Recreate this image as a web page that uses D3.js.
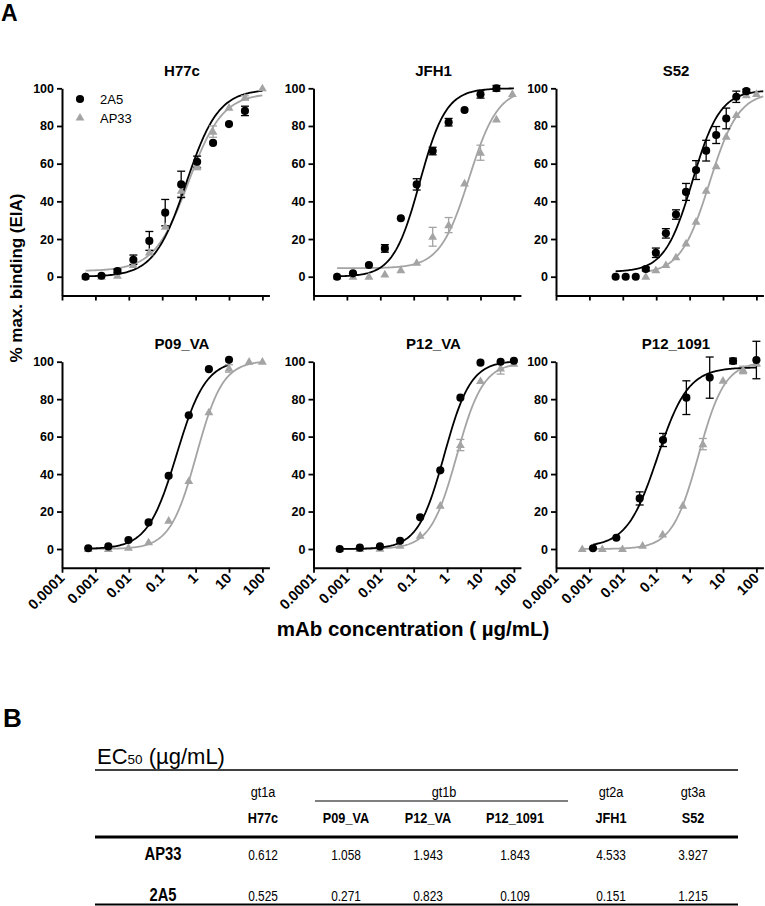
<!DOCTYPE html>
<html><head><meta charset="utf-8">
<script src="https://cdn.jsdelivr.net/npm/d3@7/dist/d3.min.js"></script>
<style>
body{margin:0;background:#fff;}
svg{display:block;font-family:"Liberation Sans",Arial,sans-serif;}
</style></head>
<body>
<svg id="c" width="765" height="906"></svg>
<script>
// ---------------- DATA ----------------
const panelNames = ["H77c","JFH1","S52","P09_VA","P12_VA","P12_1091"];
const xTickValues = [0.0001,0.001,0.01,0.1,1,10,100];
const xTickLabels = ["0.0001","0.001","0.01","0.1","1","10","100"];
const yTickValues = [0,20,40,60,80,100];

// concentrations (µg/mL), mean % binding, SEM
const conc_2A5 = [
  [0.000508,0.00152,0.00457,0.0137,0.0412,0.123,0.370,1.11,3.33,10,30],
  [0.000508,0.00152,0.00457,0.0137,0.0412,0.123,0.370,1.11,3.33,10,30],
  [0.0061,0.0122,0.0244,0.0488,0.0977,0.195,0.391,0.781,1.56,3.13,6.25,12.5,25,50],
  [0.00061,0.00244,0.00977,0.0391,0.156,0.625,2.5,10],
  [0.00061,0.00244,0.00977,0.0391,0.156,0.625,2.5,10,40,100],
  [0.00128,0.0064,0.032,0.16,0.8,4,20,100]
];
const val_2A5 = [
  [0,0.5,3,9,19,34,49,61,71,81,88],
  [0,1.8,6.2,15,31,49,66.7,82,88.5,96.8,100],
  [0,0,0,4.1,12.7,23,33,45,56.6,66.9,75.2,84,95.5,98.5],
  [0.4,1.4,4.8,14.2,39.1,71.4,96,101],
  [0,0.7,1.4,4.4,16.9,42,80.8,99.5,100,100.5],
  [0.4,6,27,58.2,80.8,91.5,100.4,100.9]
];
const sem_2A5 = [
  [0,0,1,2.5,5,7,7,3,0,0,2.5],
  [0,0,0,2,0,3,2,2,0,2,1.5,0],
  [0,0,0,1,2.5,2.5,2.5,4.5,5,5.5,4.5,5.5,3,1],
  [0,0,0,0,0,0,0,0],
  [0,0,0,0,0,0,0,0,0,0],
  [0,0,3.5,3.5,9,11,1.5,10]
];
const conc_AP33 = [
  [0.000508,0.00152,0.00457,0.0137,0.0412,0.123,0.370,1.11,3.33,10,30,100],
  [0.000508,0.00152,0.00457,0.0137,0.0412,0.123,0.370,1.11,3.33,10,30,90],
  [0.0488,0.0977,0.195,0.391,0.781,1.56,3.13,6.25,12.5,25,50,100],
  [0.00061,0.00244,0.00977,0.0391,0.156,0.625,2.5,10,40,100],
  [0.00061,0.00244,0.00977,0.0391,0.156,0.625,2.5,10,40,100],
  [0.00061,0.00244,0.00977,0.0391,0.156,0.625,2.5,10,40,100]
];
const val_AP33 = [
  [0,0,0.5,6.2,12.9,26.5,45.6,58.8,77,89.7,95,100],
  [0,0,0,1.2,3.5,7.4,21.2,27.4,49.5,65.8,83.5,97],
  [0,3.5,6.2,10.3,17.7,29.2,45.6,58.7,74.3,85.8,96.4,97],
  [0,0,0.7,3.6,15.1,36.3,73,96.4,100,100],
  [0,0,0.2,1.8,7.1,23.1,55.5,89.7,96.4,99],
  [0,0,0,1.8,7.8,23.1,56,89.9,95.6,99.2]
];
const sem_AP33 = [
  [0,0,0,0,0,0,3,2,3,0,1,0],
  [0,0,0,0,0,0,5,4,0,4,0,0],
  [0,0,0,0,0,0,0,0,0,0,0,0],
  [0,0,0,0,0,0,0,2,0,0],
  [0,0,0,0,0,0,3,0,3,0],
  [0,0,0,0,0,0,3,0,2,1.5]
];

// EC50 table (µg/mL)
const tableCols = ["H77c","P09_VA","P12_VA","P12_1091","JFH1","S52"];
const genotypes = ["gt1a","gt1b","gt2a","gt3a"];
const tableRows = ["AP33","2A5"];
const ec50_AP33 = [0.612,1.058,1.943,1.843,4.533,3.927];
const ec50_2A5  = [0.525,0.271,0.823,0.109,0.151,1.215];

// 4PL fit: bottom, top, hill slope (per panel, in panelNames order)
const fitBottom_2A5 = [0,0,2.5,0,0,1];
const fitTop_2A5    = [99.5,100,99,101,100.5,97];
const fitHill_2A5   = [0.9,1.1,1.05,1.0,1.1,0.95];
const fitBottom_AP33 = [3,4.5,1.5,0,0,0];
const fitTop_AP33    = [97.5,100,98,100.5,99.5,100];
const fitHill_AP33   = [0.85,1.0,1.0,1.1,1.1,1.1];
const curveMax_2A5  = [100,100,160,10,100,100];
const curveMax_AP33 = [100,100,160,100,100,100];

// ---------------- DRAW ----------------
const svg = d3.select("#c");
const GRAY = "#a4a4a4";
const colX = [62,313.5,556];
const rowY = [{top:88.3,zero:276.7},{top:361.7,zero:549}];
const decade = 33.4;
const xMaxDec = 2.21;

const ecFor = (name, arr) => arr[tableCols.indexOf(name)];

panelNames.forEach((name,i)=>{
  const col = i%3, row = Math.floor(i/3);
  const x0 = colX[col];
  const r = rowY[row];
  const x = d3.scaleLog().domain([1e-4, Math.pow(10,xMaxDec)]).range([x0, x0 + (4+xMaxDec)*decade]);
  const pxPerUnit = (r.zero - r.top)/100;
  const y = d3.scaleLinear().domain([-10,100]).range([r.zero + 10*pxPerUnit, r.top]);
  const g = svg.append("g");

  const ya = g.append("g").attr("transform",`translate(${x0},0)`)
    .call(d3.axisLeft(y).tickValues(yTickValues).tickSize(5).tickSizeOuter(0).tickPadding(3));
  const xa = g.append("g").attr("transform",`translate(0,${y(-10)})`)
    .call(d3.axisBottom(x).tickValues(xTickValues).tickSize(5).tickSizeOuter(0)
      .tickFormat((d,k)=> row===1 ? xTickLabels[k] : ""));
  [ya,xa].forEach(a=>{
    a.select(".domain").attr("stroke","#000").attr("stroke-width",2);
    a.selectAll(".tick line").attr("stroke","#000").attr("stroke-width",1.8);
    a.selectAll("text").attr("fill","#000").attr("font-size",12.5).attr("font-weight","bold")
      .attr("font-family","'Liberation Sans',Arial,sans-serif");
  });
  if(row===1){
    xa.selectAll(".tick text")
      .attr("font-size",14.5)
      .attr("text-anchor","end")
      .attr("transform","rotate(-45)")
      .attr("dy","0.7em").attr("y",0).attr("x",-6);
  }

  g.append("text").attr("x",x0+120).attr("y",r.top-12.4).attr("text-anchor","middle")
    .attr("font-size",15).attr("font-weight","bold").text(name);

  const line = d3.line().x(d=>x(d[0])).y(d=>y(d[1]));
  const series = [
    {conc:conc_AP33[i],val:val_AP33[i],sem:sem_AP33[i],b:fitBottom_AP33[i],t:fitTop_AP33[i],h:fitHill_AP33[i],ec:ecFor(name,ec50_AP33),cmax:curveMax_AP33[i],color:GRAY,sym:"tri"},
    {conc:conc_2A5[i],val:val_2A5[i],sem:sem_2A5[i],b:fitBottom_2A5[i],t:fitTop_2A5[i],h:fitHill_2A5[i],ec:ecFor(name,ec50_2A5),cmax:curveMax_2A5[i],color:"#000",sym:"circ"}
  ];
  series.forEach(s=>{
    const lo = Math.log10(d3.min(s.conc)), hi = Math.log10(s.cmax);
    const pts = d3.range(0,121).map(k=>{
      const lx = lo + (hi-lo)*k/120;
      return [Math.pow(10,lx), s.b + (s.t-s.b)/(1+Math.pow(10,(Math.log10(s.ec)-lx)*s.h))];
    });
    g.append("path").attr("d",line(pts)).attr("fill","none").attr("stroke",s.color).attr("stroke-width",1.8);
  });
  series.forEach(s=>{
    s.conc.forEach((c,k)=>{
      const e = s.sem[k]; if(!e) return;
      const cx = x(c), y1 = y(s.val[k]+e), y2 = y(s.val[k]-e);
      g.append("line").attr("x1",cx).attr("x2",cx).attr("y1",y1).attr("y2",y2).attr("stroke",s.color).attr("stroke-width",1.3);
      [y1,y2].forEach(yy=>g.append("line").attr("x1",cx-4).attr("x2",cx+4).attr("y1",yy).attr("y2",yy).attr("stroke",s.color).attr("stroke-width",1.3));
    });
  });
  series.forEach(s=>{
    const sym = s.sym==="tri" ? d3.symbol().type(d3.symbolTriangle).size(34) : d3.symbol().type(d3.symbolCircle).size(52);
    s.conc.forEach((c,k)=>{
      g.append("path").attr("d",sym()).attr("transform",`translate(${x(c)},${y(s.val[k]) + (s.sym==="tri"?0.5:0)})`).attr("fill",s.color);
    });
  });

  if(i===0){
    const lg = g.append("g");
    lg.append("path").attr("d",d3.symbol().type(d3.symbolCircle).size(52)()).attr("transform","translate(80,99)").attr("fill","#000");
    lg.append("text").attr("x",100).attr("y",103.5).attr("font-size",13).text("2A5");
    lg.append("path").attr("d",d3.symbol().type(d3.symbolTriangle).size(34)()).attr("transform","translate(80,118)").attr("fill",GRAY);
    lg.append("text").attr("x",100).attr("y",122.5).attr("font-size",13).text("AP33");
  }
});

svg.append("text").attr("x",1).attr("y",21).attr("font-size",23).attr("font-weight","bold").text("A");
svg.append("text").attr("x",3).attr("y",727).attr("font-size",26).attr("font-weight","bold").text("B");
svg.append("text").attr("transform","translate(22,278) rotate(-90)").attr("text-anchor","middle")
  .attr("font-size",17).attr("font-weight","bold").text("% max. binding (EIA)");
svg.append("text").attr("x",413).attr("y",636).attr("text-anchor","middle")
  .attr("font-size",20.5).attr("font-weight","bold").text("mAb concentration ( µg/mL)");

// ---------------- TABLE ----------------
const tbl = svg.append("g");
const colCx = [263,346,428,515,611,693];
const labelX = 163;
const NARROW = 0.82;
const narrowText = (x,y,size,txt,bold)=> tbl.append("text")
  .attr("transform",`translate(${x},${y}) scale(${NARROW},1)`).attr("text-anchor","middle")
  .attr("font-size",size).attr("font-weight",bold?"bold":"normal").text(txt);

const ecT = tbl.append("text").attr("x",97).attr("y",764).attr("font-size",22);
ecT.append("tspan").text("EC");
ecT.append("tspan").attr("font-size",13.5).text("50");
ecT.append("tspan").text(" (µg/mL)");
tbl.append("line").attr("x1",95).attr("x2",738).attr("y1",770).attr("y2",770).attr("stroke","#000").attr("stroke-width",1.5);
const gtX = [colCx[0], 444, colCx[4], colCx[5]];
genotypes.forEach((gname,k)=> narrowText(gtX[k],797,15.5,gname,false));
tbl.append("line").attr("x1",315).attr("x2",568).attr("y1",801).attr("y2",801).attr("stroke","#000").attr("stroke-width",1);
tableCols.forEach((c,k)=> narrowText(colCx[k],823,15.5,c,true));
tbl.append("line").attr("x1",95).attr("x2",738).attr("y1",837).attr("y2",837).attr("stroke","#000").attr("stroke-width",3);
const rowVals = [ec50_AP33, ec50_2A5];
const rowYs = [860, 901];
tableRows.forEach((rn,ri)=>{
  narrowText(labelX,rowYs[ri],18,rn,true);
  rowVals[ri].forEach((v,k)=> narrowText(colCx[k],rowYs[ri],14.5,d3.format(".3f")(v),false));
});
tbl.append("line").attr("x1",95).attr("x2",738).attr("y1",904.5).attr("y2",904.5).attr("stroke","#000").attr("stroke-width",2);
</script>
</body></html>
